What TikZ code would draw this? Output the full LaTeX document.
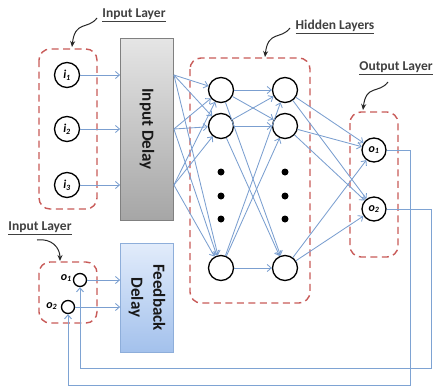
\documentclass[tikz,border=0pt]{standalone}
\usepackage{fontspec}
\setmainfont{Carlito}
\usetikzlibrary{arrows.meta}
\definecolor{dashred}{HTML}{C85A58}
\definecolor{linkblue}{HTML}{7B9FD0}
\definecolor{fbblue}{HTML}{7EA3D3}
\definecolor{lblgray}{HTML}{404040}
\definecolor{fdtop}{HTML}{E2ECFB}
\definecolor{fdbot}{HTML}{A3C1EC}
\definecolor{fdline}{HTML}{8EAEDA}
\begin{document}
\begin{tikzpicture}[x=1pt,y=-1pt,
  neuron/.style={circle,draw=black,line width=1.3pt,minimum size=25pt,inner sep=0pt,
    font=\bfseries\itshape\fontsize{12}{12}\selectfont},
  small/.style={circle,draw=black,line width=1.3pt,minimum size=13pt,inner sep=0pt},
  dotnode/.style={circle,fill=black,minimum size=7pt,inner sep=0pt},
  layerbox/.style={draw=dashred,dash pattern=on 7pt off 4.5pt,line width=1.4pt,rounded corners=11pt},
  link/.style={draw=linkblue,line width=0.85pt,-{Straight Barb[length=4pt,width=7pt]}},
  fb/.style={draw=fbblue,line width=1pt,-{Straight Barb[length=4pt,width=7pt]}},
  lbl/.style={font=\bfseries\fontsize{13.5}{13.5}\selectfont,text=lblgray,inner sep=1pt},
  curly/.style={draw=black!85,line width=1pt,-{Stealth[length=6pt,width=5pt]}},
  delaybox/.style={draw=black!50,line width=0.8pt,inner sep=0pt,minimum width=53pt},
  delaytext/.style={rotate=-90,font=\bfseries\fontsize{17}{22}\selectfont,align=center,text=black!90},
  flbl/.style={font=\bfseries\itshape\fontsize{12}{12}\selectfont,inner sep=0.5pt}
]
\useasboundingbox (0,0) rectangle (433,388);

% layer boxes
\draw[layerbox] (39,49) rectangle (97,209);
\draw[layerbox] (190,58) rectangle (310,303);
\draw[layerbox] (350,112) rectangle (398,257);
\draw[layerbox] (39,262) rectangle (97,323);

% labels
\node[lbl] (L1) at (134,15) {\underline{Input Layer}};
\node[lbl] (L2) at (335,27) {\underline{Hidden Layers}};
\node[lbl] (L3) at (396,68) {\underline{Output Layer}};
\node[lbl] (L4) at (40,228) {\underline{Input Layer}};
\coordinate (a1s) at (97,18);  \coordinate (a1e) at (72,47);
\coordinate (a2s) at (290,28); \coordinate (a2e) at (265,57);
\coordinate (a3s) at (388,82); \coordinate (a3e) at (363,110);
\coordinate (a4s) at (37,240); \coordinate (a4e) at (60,261);
\draw[curly] (a1s) .. controls (88,30) and (75,20) .. (a1e);
\draw[curly] (a2s) .. controls (281,40) and (268,30) .. (a2e);
\draw[curly] (a3s) .. controls (379,94) and (366,84) .. (a3e);
\draw[curly] (a4s) .. controls (52,238) and (60,248) .. (a4e);

% delay boxes
\node[delaybox,minimum height=182pt,top color=black!10,bottom color=black!35] (ID) at (147,129) {};
\node[delaytext] (IDt) at (ID) {Input Delay};
\node[delaybox,draw=fdline,minimum height=109pt,top color=fdtop,bottom color=fdbot] (FD) at (147,297.5) {};
\node[delaytext] (FDt) at (FD) {Feedback\\Delay};

% input neurons
\node[neuron] (i1) at (67,75) {i\textsubscript{1}};
\node[neuron] (i2) at (67,129) {i\textsubscript{2}};
\node[neuron] (i3) at (67,185) {i\textsubscript{3}};
\foreach \k in {1,2,3} {
  \draw[link] (i\k) -- (ID.west |- i\k);
  \coordinate (d\k) at (ID.east |- i\k);
}

% hidden neurons
\node[neuron] (h11) at (221,90) {};
\node[neuron] (h12) at (221,126) {};
\node[neuron] (h13) at (221,268) {};
\node[neuron] (h21) at (285,90) {};
\node[neuron] (h22) at (285,126) {};
\node[neuron] (h23) at (285,268) {};
\foreach \x/\c in {221/a,285/b} {
  \node[dotnode] (dot1\c) at (\x,172) {};
  \node[dotnode] (dot2\c) at (\x,196) {};
  \node[dotnode] (dot3\c) at (\x,219) {};
}

% output neurons
\node[neuron,minimum size=24pt] (o1) at (374,150) {o\textsubscript{1}};
\node[neuron,minimum size=24pt] (o2) at (374,209) {o\textsubscript{2}};

% connections
\foreach \a in {1,2,3} {
  \foreach \b in {1,2,3} {
    \draw[link] (d\a) -- (h1\b);
    \draw[link] (h1\a) -- (h2\b);
  }
  \draw[link] (h2\a) -- (o1);
  \draw[link] (h2\a) -- (o2);
}

% feedback neurons
\node[small,label={[flbl,label distance=0.5pt,yshift=2pt]left:o\textsubscript{1}}] (f1) at (80,280) {};
\node[small,label={[flbl,label distance=3pt,yshift=1pt]left:o\textsubscript{2}}] (f2) at (68,307) {};
\draw[link] (f1) -- (FD.west |- f1);
\draw[link] (f2) -- (FD.west |- f2);

% feedback lines
\coordinate (c1) at (410,385);
\coordinate (c2) at (431,368);
\draw[fb] (o1) -| (c1) -| (f2);
\draw[fb] (o2) -| (c2) -| (f1);
\end{tikzpicture}
\end{document}
